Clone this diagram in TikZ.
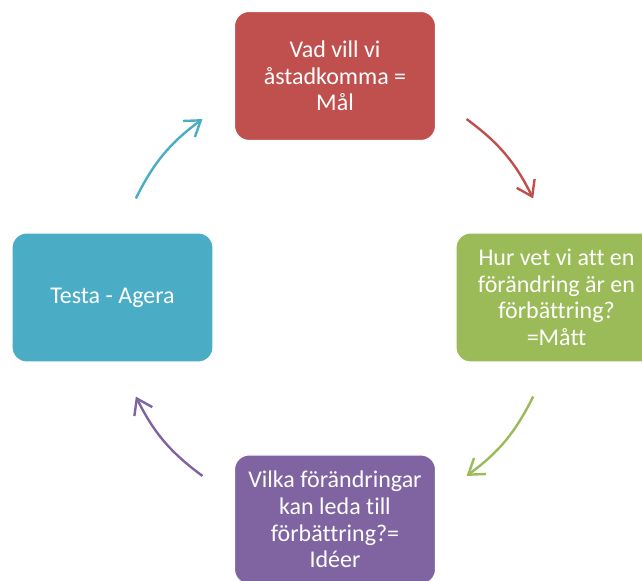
\documentclass[tikz,border=0pt]{standalone}
\usepackage{fontspec}
\setmainfont[Ligatures=NoCommon]{Carlito}
\usepackage{tikz}
\usetikzlibrary{arrows.meta}
\definecolor{malred}{HTML}{C0504D}
\definecolor{mattgreen}{HTML}{9BBB59}
\definecolor{ideapurple}{HTML}{8064A2}
\definecolor{testblue}{HTML}{4BACC6}

\begin{document}
\begin{tikzpicture}[x=0.75pt,y=0.75pt,
box/.style={draw=white,line width=0.8pt,rounded corners=11pt,minimum width=150.75pt,minimum height=96.75pt,
  inner sep=2pt,align=center,text=white,font=\fontsize{18}{20}\selectfont},
cyc/.style={line width=1.8pt,-{Straight Barb[length=11pt,width=15pt]}}]

\useasboundingbox (0,0) rectangle (642,581);

\coordinate (c) at (334.5,283.5);

\node[box,fill=malred] (goal) at (335,505) {Vad vill vi\\åstadkomma =\\Mål};
\node[box,fill=mattgreen] (measure) at (556.5,283.5) {Hur vet vi att en\\förändring är en\\förbättring?\\=Mått};
\node[box,fill=ideapurple] (ideas) at (335,61.5) {Vilka förändringar\\kan leda till\\förbättring?=\\Idéer};
\node[box,fill=testblue] (test) at (112.5,283.5) {Testa - Agera};

\foreach \n/\a in {r1/53.5,r2/26.5,g1/-26.5,g2/-53.5,p1/233.5,p2/206.5,b1/153.5,b2/126.5}
{
\path (c) ++(\a:222) coordinate (\n);
}

\draw[cyc,malred]     (r1) to[bend left=13.5] (r2);
\draw[cyc,mattgreen]  (g1) to[bend left=13.5] (g2);
\draw[cyc,ideapurple] (p1) to[bend left=13.5] (p2);
\draw[cyc,testblue]   (b1) to[bend left=13.5] (b2);
\end{tikzpicture}
\end{document}
